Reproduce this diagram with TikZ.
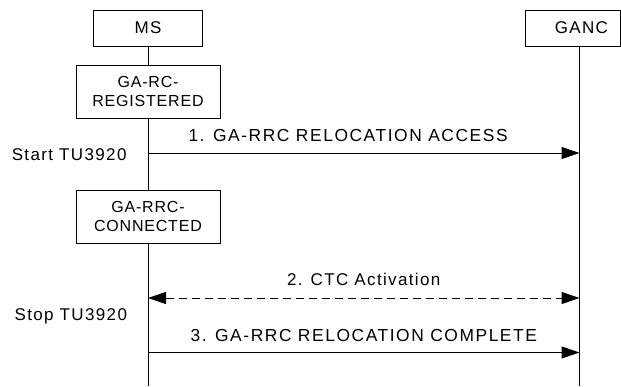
\documentclass[tikz,border=0pt]{standalone}
\usepackage{fontspec}
\setmainfont{Liberation Sans}
\newfontfamily\diagfont[LetterSpace=8]{Liberation Sans}
\newfontfamily\capsfont[LetterSpace=9]{Liberation Sans}
\newfontfamily\boxfont[LetterSpace=5]{Liberation Sans}
\usetikzlibrary{arrows.meta, positioning}

\begin{document}
\begin{tikzpicture}[
    x=1pt, y=-1pt,
    line width=1pt,
    every node/.style={inner sep=0pt},
    entity/.style={draw, fill=white, minimum height=36pt, font=\diagfont\fontsize{17}{20}\selectfont},
    state/.style={draw, fill=white, minimum width=144pt, minimum height=53pt, align=center, font=\boxfont\fontsize{16}{19.5}\selectfont},
    timer/.style={anchor=base east, font=\diagfont\fontsize{17}{20}\selectfont},
    msglabel/.style={anchor=base, font=\diagfont\fontsize{17}{20}\selectfont},
    capslabel/.style={msglabel, font=\capsfont\fontsize{17.4}{20}\selectfont},
    arrow/.style={-{Triangle[length=18pt, width=12pt]}},
    bothway/.style={{Triangle[length=18pt, width=12pt]}-{Triangle[length=18pt, width=12pt]}, dash pattern=on 8pt off 5pt}
]
    \useasboundingbox (0,0) rectangle (621,386);

    \node[entity, minimum width=109pt] (ms) at (148,28) {MS};
    \node[entity, minimum width=95pt, text width=71pt, align=right] (ganc) at (572.5,28) {GANC};
    \node[state] (registered) at (148,91.5) {GA-RC-\\REGISTERED};
    \node[state] (connected) at (148,216.5) {GA-RRC-\\CONNECTED};

    \coordinate (msEnd) at (148,386);
    \coordinate (gancEnd) at (579.5,386);
    \coordinate (ms1) at (148,153);
    \coordinate (ganc1) at (579.5,153);
    \coordinate (ms2) at (148,298);
    \coordinate (ganc2) at (579.5,298);
    \coordinate (ms3) at (148,352.5);
    \coordinate (ganc3) at (579.5,352.5);

    % lifelines
    \draw (ms) -- (registered);
    \draw (registered) -- (connected);
    \draw (connected) -- (msEnd);
    \draw (ganc.south -| gancEnd) -- (gancEnd);

    % messages
    \draw[arrow] (ms1) -- (ganc1);
    \draw[bothway] (ms2) -- (ganc2);
    \draw[arrow] (ms3) -- (ganc3);

    \node[capslabel, anchor=base west] (msg1) at (188,141) {1. GA-RRC RELOCATION ACCESS};
    \node[msglabel] (msg2) at (363.75,285.5) {2. CTC Activation};
    \node[capslabel] (msg3) at (363.75,341) {3. GA-RRC RELOCATION COMPLETE};

    \node[timer] (start) at (127,160) {Start TU3920};
    \node[timer] (stop) at (127.5,320.5) {Stop TU3920};
\end{tikzpicture}
\end{document}
